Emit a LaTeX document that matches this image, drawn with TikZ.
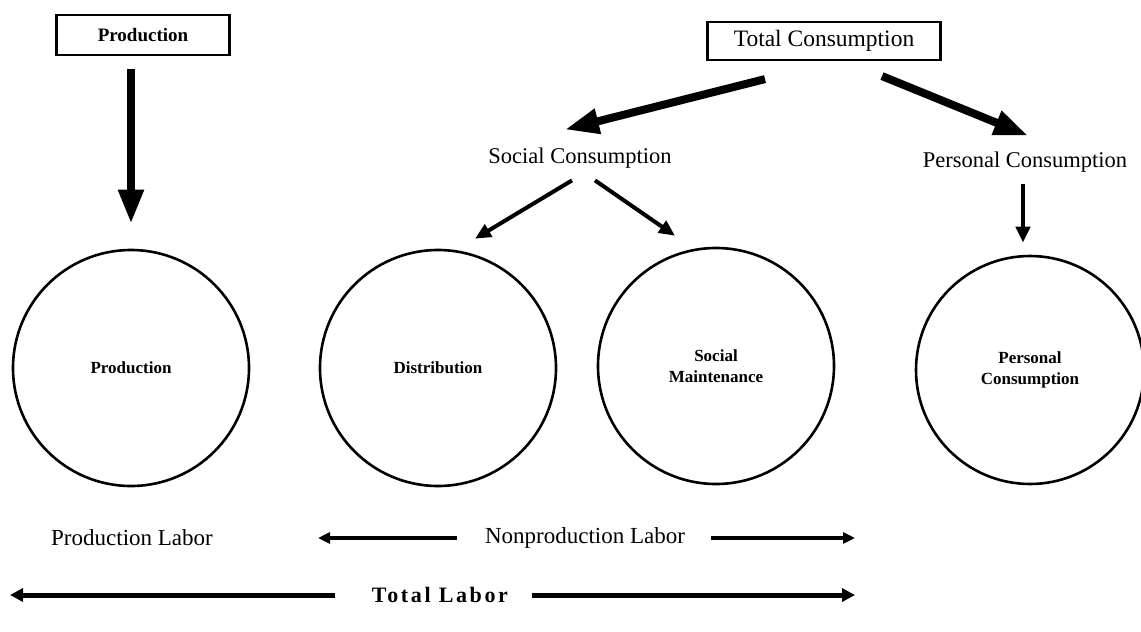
\documentclass[tikz,border=0pt]{standalone}
\usepackage{fontspec}
\setmainfont{Liberation Serif}
\usetikzlibrary{arrows.meta,calc}
\begin{document}
\begin{tikzpicture}[x=1pt,y=-1pt,
  box/.style={draw,line width=2.2pt,inner sep=0pt},
  lab/.style={font=\fontsize{23}{26}\selectfont,inner sep=2pt},
  circ/.style={draw,circle,line width=2.6pt,minimum size=236pt,inner sep=0pt,align=center,font=\fontsize{17}{21}\selectfont\bfseries},
  bigarrow/.style={line width=8pt,-{Triangle[length=34pt,width=24pt]}},
  midarrow/.style={line width=4pt,-{Triangle[length=16pt,width=14pt]}},
  labarrow/.style={line width=3.5pt,-{Triangle[length=12pt,width=11pt]}},
  totarrow/.style={line width=5pt,-{Triangle[length=13pt,width=13pt]}}
]
\useasboundingbox (0,0) rectangle (1141,632);

% boxes
\node[box,minimum width=173pt,minimum height=40pt,font=\fontsize{19}{22}\selectfont\bfseries] (pbox) at (143,35) {Production};
\node[box,minimum width=233pt,minimum height=38pt,font=\fontsize{23.5}{26}\selectfont] (tc) at (824,41) {Total Consumption};

% labels
\node[lab,font=\fontsize{22.5}{26}\selectfont] (sc) at (580,158) {Social Consumption};
\node[lab,font=\fontsize{22.5}{26}\selectfont] (pcl) at (1025,162) {Personal Consumption};

% circles
\node[circ] (cprod) at (131,368) {Production};
\node[circ] (cdist) at (438,368) {Distribution};
\node[circ] (csm) at (716,366) {Social\\Maintenance};
\node[circ,minimum size=228pt] (cpc) at (1030,370) {Personal\\Consumption};

% arrows top
\draw[bigarrow,shorten <=13pt,shorten >=25pt] (pbox.south -| cprod.north) -- (cprod.north);
\draw[bigarrow] ($(tc.south)+(-59,18)$) -- ($(sc.north)+(-15,-16)$);
\draw[bigarrow] ($(tc.south)+(58,15)$) -- ($(pcl.north)+(3,-14)$);

\draw[midarrow] ($(sc.south)+(-8,10)$) -- ($(cdist.north)+(37,-10)$);
\draw[midarrow] ($(sc.south)+(15,10)$) -- ($(csm.north)+(-41,-11)$);
\draw[midarrow] ($(pcl.south)+(-2,10)$) -- ($(cpc.north)+(-7,-12)$);

% bottom labels
\node[lab] (plab) at (132,538) {Production Labor};
\node[lab] (nlab) at (585,538) {Nonproduction Labor};
\node[font=\fontsize{22}{24}\selectfont\bfseries\addfontfeature{LetterSpace=12}] (tlab) at (440,595) {Total Labor};

\coordinate (nl) at (318,538);
\coordinate (nr) at (855,538);
\coordinate (tl) at (10,595);
\coordinate (tr) at (855,595);

\draw[labarrow] ($(nlab.west)+(-26,0)$) -- (nl);
\draw[labarrow] ($(nlab.east)+(24,0)$) -- (nr);
\draw[totarrow] ($(tlab.west)+(-33,0)$) -- (tl);
\draw[totarrow] ($(tlab.east)+(20,0)$) -- (tr);
\end{tikzpicture}
\end{document}
